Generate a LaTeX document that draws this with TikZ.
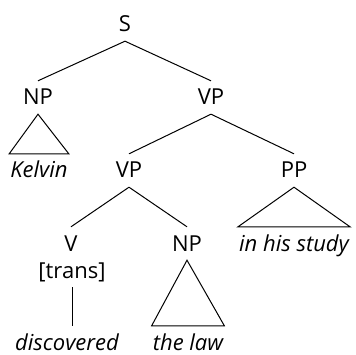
\documentclass[tikz,border=0pt]{standalone}
\usepackage{fontspec}
\setmainfont{Open Sans}
\usepackage{tikz}

\begin{document}
\begin{tikzpicture}[
  x=1pt, y=-1pt,
  font=\fontsize{22}{26}\selectfont,
  cat/.style={anchor=base, text height=15pt, text depth=0pt,
              inner ysep=9pt, inner xsep=1pt},
  word/.style={cat, font=\fontsize{22}{26}\selectfont\itshape},
  edge/.style={line width=1pt}
]
\useasboundingbox (0,0) rectangle (355,355);

\node[cat]  (s)      at (125, 32)  {S};
\node[cat]  (np1)    at (38, 105)  {NP};
\node[cat]  (vp1)    at (211, 105) {VP};
\node[word] (kelvin) at (39, 178)  {Kelvin};
\node[cat]  (vp2)    at (129, 178) {VP};
\node[cat]  (pp)     at (294, 178) {PP};
\node[cat]  (v)      at (71, 251)  {V};
\node[cat]  (np2)    at (187, 251) {NP};
\node[word] (study)  at (294, 251) {in his study};
\node[cat]  (trans)  at (72, 278)  {[trans]};
\node[word] (disc)   at (67, 350)  {discovered};
\node[word] (law)    at (188, 350) {the law};

\draw[edge] (s.south)   -- (np1.north);
\draw[edge] (s.south)   -- (vp1.north);
\draw[edge] (vp1.south) -- (vp2.north);
\draw[edge] (vp1.south) -- (pp.north);
\draw[edge] (vp2.south) -- (v.north);
\draw[edge] (vp2.south) -- (np2.north);
\draw[edge] (trans.south) -- (trans.south |- disc.north);

\draw[edge] (np1.south) -- (kelvin.north east) -- (kelvin.north west) -- cycle;
\draw[edge] (pp.south)  -- (study.north east)  -- (study.north west)  -- cycle;
\draw[edge] (np2.south) -- (law.north east)    -- (law.north west)    -- cycle;
\end{tikzpicture}
\end{document}
